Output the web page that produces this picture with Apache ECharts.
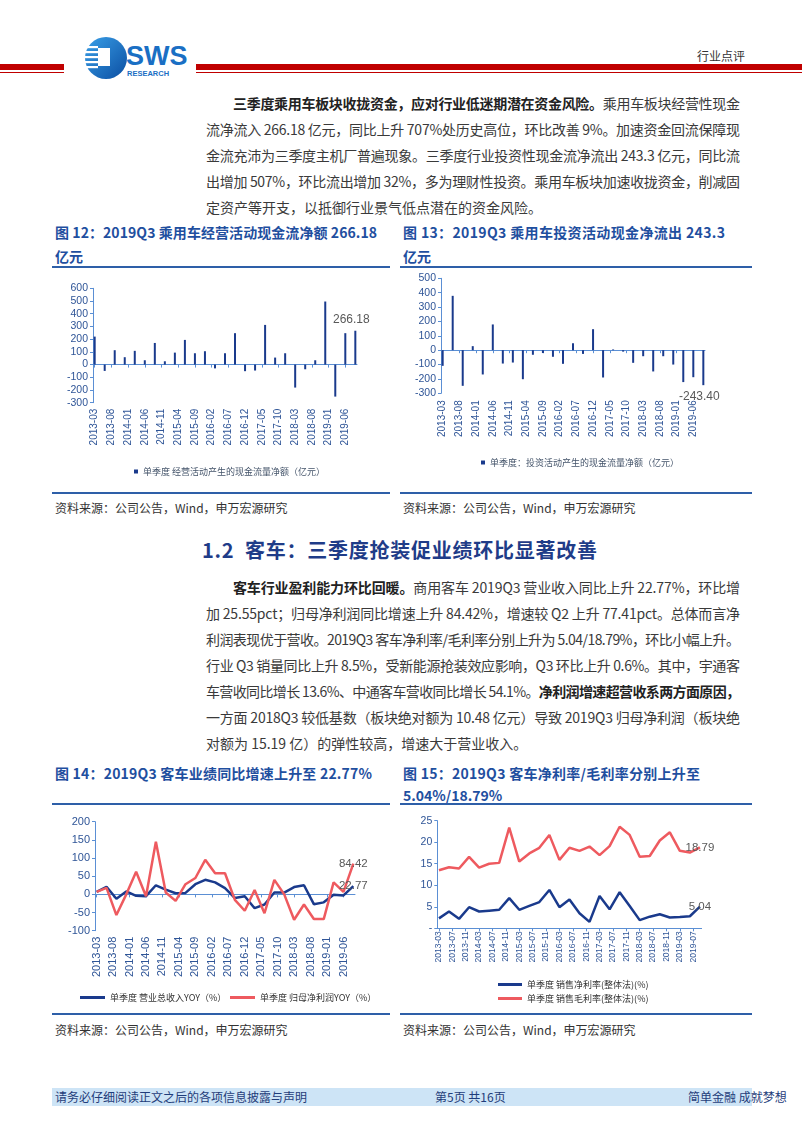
<!DOCTYPE html>
<html><head><meta charset="utf-8">
<script src="https://cdn.jsdelivr.net/npm/echarts@6/dist/echarts.min.js"></script>
<style>
html,body{margin:0;padding:0;background:#fff;}
body{width:802px;height:1133px;position:relative;overflow:hidden;font-family:"Noto Sans CJK SC","Noto Sans",sans-serif;}
.t{position:absolute;white-space:nowrap;line-height:20px;height:20px;}
.p{font-size:14px;color:#3a3a3a;}
.p b{color:#222;font-weight:bold;}
.ft{font-size:14px;font-weight:bold;color:#1f4f9f;}
.src{font-size:12px;color:#333;}
.rule{position:absolute;height:1.5px;background:#2e5fa8;}
.chart{position:absolute;}
</style></head>
<body>
<!-- header -->
<svg class="chart" style="left:80px;top:34px" width="120" height="50" viewBox="0 0 120 50">
  <defs><linearGradient id="g" x1="0" y1="0" x2="1" y2="1"><stop offset="0" stop-color="#3aa0e8"/><stop offset="1" stop-color="#0b4ea2"/></linearGradient></defs>
  <circle cx="26" cy="24" r="21" fill="url(#g)"/>
  <rect x="4" y="12" width="14" height="2.2" fill="#fff"/>
  <rect x="3" y="17" width="15" height="2.2" fill="#fff"/>
  <rect x="3" y="22" width="15" height="2.2" fill="#fff"/>
  <rect x="3" y="27" width="15" height="2.2" fill="#fff"/>
  <rect x="4" y="32" width="14" height="2.2" fill="#fff"/>
  <rect x="18" y="14" width="12" height="18" fill="#fff"/>
  <text x="46" y="31" font-family="Liberation Sans" font-weight="bold" font-size="27" fill="#1a6fc4">SWS</text>
  <text x="47" y="42" font-family="Liberation Sans" font-weight="bold" font-size="7.5" fill="#1a6fc4">RESEARCH</text>
</svg>
<div class="t" style="left:697px;top:46px;font-size:12px;color:#333;">行业点评</div>
<div style="position:absolute;left:0;top:64px;width:64px;height:6px;background:#c00000"></div>
<div style="position:absolute;left:0;top:71.5px;width:64px;height:1px;background:#c00000"></div>
<div style="position:absolute;left:196px;top:64px;width:606px;height:6px;background:#c00000"></div>
<div style="position:absolute;left:196px;top:71.5px;width:606px;height:1px;background:#c00000"></div>

<!-- paragraph 1 -->
<div class="t p" style="left:233px;top:93px" data-w="507"><b>三季度乘用车板块收拢资金，应对行业低迷期潜在资金风险。</b>乘用车板块经营性现金</div>
<div class="t p" style="left:206px;top:119px" data-w="534">流净流入 266.18 亿元，同比上升 707%处历史高位，环比改善 9%。加速资金回流保障现</div>
<div class="t p" style="left:206px;top:145px" data-w="534">金流充沛为三季度主机厂普遍现象。三季度行业投资性现金流净流出 243.3 亿元，同比流</div>
<div class="t p" style="left:206px;top:171px" data-w="534">出增加 507%，环比流出增加 32%，多为理财性投资。乘用车板块加速收拢资金，削减固</div>
<div class="t p" style="left:206px;top:197px">定资产等开支，以抵御行业景气低点潜在的资金风险。</div>

<!-- figure 12/13 titles -->
<div class="t ft" style="left:55px;top:222px" data-w="322">图 12：2019Q3 乘用车经营活动现金流净额 266.18</div>
<div class="t ft" style="left:55px;top:246px">亿元</div>
<div class="t ft" style="left:403px;top:222px" data-w="322">图 13：2019Q3 乘用车投资活动现金净流出 243.3</div>
<div class="t ft" style="left:403px;top:246px">亿元</div>
<div class="rule" style="left:52px;top:266px;width:338px"></div>
<div class="rule" style="left:400px;top:266px;width:352px"></div>
<div id="c1" class="chart" style="left:52px;top:270px;width:340px;height:220px"></div>
<div id="c2" class="chart" style="left:400px;top:270px;width:352px;height:220px"></div>
<div class="rule" style="left:52px;top:492px;width:338px"></div>
<div class="rule" style="left:400px;top:492px;width:352px"></div>
<div class="t src" style="left:55px;top:498px">资料来源：公司公告，Wind，申万宏源研究</div>
<div class="t src" style="left:403px;top:498px">资料来源：公司公告，Wind，申万宏源研究</div>

<!-- section title -->
<div class="t" style="left:202px;top:536px;height:28px;line-height:28px;font-size:20px;font-weight:bold;color:#1f3c88;" data-w="395">1.2&nbsp; 客车：三季度抢装促业绩环比显著改善</div>

<!-- paragraph 2 -->
<div class="t p" style="left:233px;top:577px" data-w="507"><b>客车行业盈利能力环比回暖。</b>商用客车 2019Q3 营业收入同比上升 22.77%，环比增</div>
<div class="t p" style="left:206px;top:603px" data-w="534">加 25.55pct；归母净利润同比增速上升 84.42%，增速较 Q2 上升 77.41pct。总体而言净</div>
<div class="t p" style="left:206px;top:629px" data-w="534">利润表现优于营收。2019Q3 客车净利率/毛利率分别上升为 5.04/18.79%，环比小幅上升。</div>
<div class="t p" style="left:206px;top:655px" data-w="534">行业 Q3 销量同比上升 8.5%，受新能源抢装效应影响，Q3 环比上升 0.6%。其中，宇通客</div>
<div class="t p" style="left:206px;top:681px" data-w="534">车营收同比增长 13.6%、中通客车营收同比增长 54.1%。<b>净利润增速超营收系两方面原因，</b></div>
<div class="t p" style="left:206px;top:707px" data-w="534">一方面 2018Q3 较低基数（板块绝对额为 10.48 亿元）导致 2019Q3 归母净利润（板块绝</div>
<div class="t p" style="left:206px;top:733px">对额为 15.19 亿）的弹性较高，增速大于营业收入。</div>

<!-- figure 14/15 -->
<div class="t ft" style="left:55px;top:763px" data-w="317">图 14：2019Q3 客车业绩同比增速上升至 22.77%</div>
<div class="t ft" style="left:403px;top:763px" data-w="297">图 15：2019Q3 客车净利率/毛利率分别上升至</div>
<div class="t ft" style="left:403px;top:785px">5.04%/18.79%</div>
<div class="rule" style="left:52px;top:803px;width:338px"></div>
<div class="rule" style="left:400px;top:803px;width:352px"></div>
<div id="c3" class="chart" style="left:52px;top:805px;width:340px;height:207px"></div>
<div id="c4" class="chart" style="left:400px;top:805px;width:352px;height:207px"></div>
<div class="rule" style="left:52px;top:1013px;width:338px"></div>
<div class="rule" style="left:400px;top:1013px;width:352px"></div>
<div class="t src" style="left:55px;top:1020px">资料来源：公司公告，Wind，申万宏源研究</div>
<div class="t src" style="left:403px;top:1020px">资料来源：公司公告，Wind，申万宏源研究</div>

<!-- footer -->
<div style="position:absolute;left:52px;top:1088px;width:700px;height:18px;background:#cde4f6"></div>
<div class="t" style="left:55px;top:1087px;font-size:12px;color:#1f3d7a;">请务必仔细阅读正文之后的各项信息披露与声明</div>
<div class="t" style="left:435px;top:1087px;font-size:12px;color:#1f3d7a;">第5页 共16页</div>
<div class="t" style="left:688px;top:1087px;font-size:12px;color:#1f3d7a;">简单金融 成就梦想</div>

<script>
// ---------------- data ----------------
const quarters = ['2013-03','2013-06','2013-09','2013-12','2014-03','2014-06','2014-09','2014-12',
  '2015-03','2015-06','2015-09','2015-12','2016-03','2016-06','2016-09','2016-12',
  '2017-03','2017-06','2017-09','2017-12','2018-03','2018-06','2018-09','2018-12',
  '2019-03','2019-06','2019-09'];
// 单季度 经营活动产生的现金流量净额（亿元）
const opCashFlow = [220,-50,113,58,108,34,170,26,94,194,89,105,-30,89,247,-52,-47,312,55,89,-181,-37,34,496,-252,247,266.18];
// 单季度 投资活动产生的现金流量净额（亿元）
const invCashFlow = [-109,378,-248,28,-169,179,-93,-86,-202,-32,-20,-46,-95,49,-26,146,-190,5,-10,-88,-42,-148,-42,-100,-222,-188,-243.40];
// 客车 单季度 营业总收入YOY / 归母净利润YOY (%)
const busRevenueYoy = [7,21,-12,8,-4,-5,25,13,3,4,28,40,33,17,-10,-5,-38,-28,5,5,20,25,-27,-22,-1,-3,22.77];
const busProfitYoy = [7,18,-57,0,62,-5,145,5,-18,28,45,95,58,58,-15,-45,12,-52,40,0,-70,-28,-68,-68,33,7,84.42];
// 客车 单季度 销售净利率 / 销售毛利率 (整体法)(%)
const busNetMargin = [2.3,3.9,2.2,4.9,3.9,4.1,4.3,7.0,4.3,5.2,6.1,8.9,4.9,6.7,3.5,1.5,7.5,4.4,8.4,5.2,1.9,2.7,3.25,2.5,2.6,2.8,5.04];
const busGrossMargin = [13.5,14.2,13.9,16.6,14.1,15.0,15.2,23.4,15.5,17.4,18.7,21.7,15.9,18.7,18.0,19.0,17.0,19.1,23.6,21.7,16.6,16.8,20.4,22.3,18.0,17.6,18.79];

// ---------------- text fitting ----------------
document.querySelectorAll('[data-w]').forEach(el => {
  const W = +el.dataset.w;
  el.style.letterSpacing = '0px';
  const w0 = el.getBoundingClientRect().width;
  const n = el.textContent.length;
  el.style.letterSpacing = ((W - w0) / (n - 1)) + 'px';
});

// ---------------- helpers ----------------
function monthAxis(first, last) {
  let [y, m] = first.split('-').map(Number);
  const [y1, m1] = last.split('-').map(Number);
  const out = [];
  while (y < y1 || (y === y1 && m <= m1)) {
    out.push(y + '-' + String(m).padStart(2, '0'));
    m++; if (m > 12) { m = 1; y++; }
  }
  return out;
}
const months = monthAxis(quarters[0], quarters[quarters.length - 1]);
function toMonthly(vals, lastLabel) {
  const arr = months.map(() => null);
  vals.forEach((v, i) => { arr[months.indexOf(quarters[i])] = v; });
  if (lastLabel) {
    const li = months.indexOf(quarters[quarters.length - 1]);
    arr[li] = { value: arr[li], label: lastLabel };
  }
  return arr;
}
const NUM = 'Liberation Sans, Arial, sans-serif';
const CJK = '"Noto Sans CJK SC", sans-serif';
const AXIS = '#5b8fd4';
const LBL = '#2f5597';
const NAVY = '#1a3a8c';
const RED = '#ee5a5f';

function xAxes(interval, fontSize, margin) {
  return [
    { type: 'category', data: months, position: 'bottom',
      axisLine: { show: false, onZero: false }, axisTick: { show: false },
      axisLabel: { interval, rotate: 90, fontSize, color: LBL, fontFamily: NUM, margin } },
    { type: 'category', data: months, position: 'bottom',
      axisLine: { onZero: true, lineStyle: { color: AXIS, width: 1 } },
      axisTick: { show: true, interval, alignWithLabel: true, length: 3, lineStyle: { color: AXIS } },
      axisLabel: { show: false } }
  ];
}
function yAxis(min, max, interval, fontSize, fmt) {
  return { type: 'value', min, max, interval,
    axisLine: { show: true, lineStyle: { color: AXIS } },
    axisTick: { show: true, length: 3, lineStyle: { color: AXIS } },
    splitLine: { show: false },
    axisLabel: { fontSize, color: LBL, fontFamily: NUM, margin: 5, formatter: fmt } };
}
const valLabel = (extra) => Object.assign({ show: true, color: '#595959', fontSize: 12, fontFamily: NUM,
  formatter: p => (typeof p.value === 'number' ? p.value.toFixed(2) : p.value) }, extra);
const legendText = (color) => ({ fontSize: 9, color, fontFamily: CJK });

// ---------------- chart 1 ----------------
echarts.init(document.getElementById('c1')).setOption({
  animation: false,
  grid: { left: 41, top: 18.3, width: 264, height: 114.4 },
  legend: { left: 77, top: 192, itemWidth: 4, itemHeight: 4, icon: 'rect',
    textStyle: legendText('#44546a'),
    data: ['单季度 经营活动产生的现金流量净额（亿元）'] },
  xAxis: xAxes(4, 10, 6),
  yAxis: yAxis(-300, 600, 100, 10.5),
  series: [{ type: 'bar', name: '单季度 经营活动产生的现金流量净额（亿元）', barWidth: 2,
    itemStyle: { color: NAVY },
    data: toMonthly(opCashFlow, valLabel({ position: 'top', distance: 5, offset: [-4, 0] })) }]
});

// ---------------- chart 2 ----------------
echarts.init(document.getElementById('c2')).setOption({
  animation: false,
  grid: { left: 41, top: 8.3, width: 264, height: 115 },
  legend: { left: 76, top: 183, itemWidth: 4, itemHeight: 4, icon: 'rect',
    textStyle: legendText('#44546a'),
    data: ['单季度：投资活动产生的现金流量净额（亿元）'] },
  xAxis: xAxes(4, 10, 7),
  yAxis: yAxis(-300, 500, 100, 10.5),
  series: [{ type: 'bar', name: '单季度：投资活动产生的现金流量净额（亿元）', barWidth: 2,
    itemStyle: { color: NAVY },
    data: toMonthly(invCashFlow, valLabel({ position: 'bottom', distance: 6, offset: [-4, 0] })) }]
});

// ---------------- chart 3 ----------------
function lineSeries(name, vals, color) {
  return { type: 'line', name, connectNulls: true, symbol: 'circle', symbolSize: 0, showSymbol: true,
    lineStyle: { color, width: 2.5 }, itemStyle: { color },
    data: toMonthly(vals, valLabel({ position: 'inside', fontSize: 11.5, formatter: p => p.value.toFixed(2) })) };
}
echarts.init(document.getElementById('c3')).setOption({
  animation: false,
  grid: { left: 43, top: 16.7, width: 260, height: 109 },
  legend: [
    { left: 23, top: 183, itemWidth: 25, itemHeight: 3, icon: 'rect', width: 150,
      textStyle: legendText('#333'), data: ['单季度 营业总收入YOY（%）'] },
    { left: 173, top: 183, itemWidth: 25, itemHeight: 3, icon: 'rect', width: 160,
      textStyle: legendText('#333'), data: ['单季度 归母净利润YOY（%）'] }
  ],
  xAxis: xAxes(4, 11, 6),
  yAxis: yAxis(-100, 200, 50, 11),
  series: [
    lineSeries('单季度 营业总收入YOY（%）', busRevenueYoy, NAVY),
    lineSeries('单季度 归母净利润YOY（%）', busProfitYoy, RED)
  ]
});

// ---------------- chart 4 ----------------
echarts.init(document.getElementById('c4')).setOption({
  animation: false,
  grid: { left: 37.3, top: 15.7, width: 264.3, height: 107.6 },
  legend: { left: 93, top: 170, orient: 'vertical', itemWidth: 24, itemHeight: 3, icon: 'rect', itemGap: 5,
    textStyle: legendText('#333'),
    data: ['单季度 销售净利率(整体法)(%)', '单季度 销售毛利率(整体法)(%)'] },
  xAxis: xAxes(3, 8.5, 3),
  yAxis: yAxis(0, 25, 5, 10.5, v => v === 0 ? '-' : v),
  series: [
    lineSeries('单季度 销售净利率(整体法)(%)', busNetMargin, NAVY),
    lineSeries('单季度 销售毛利率(整体法)(%)', busGrossMargin, RED)
  ]
});
</script>
</body></html>
